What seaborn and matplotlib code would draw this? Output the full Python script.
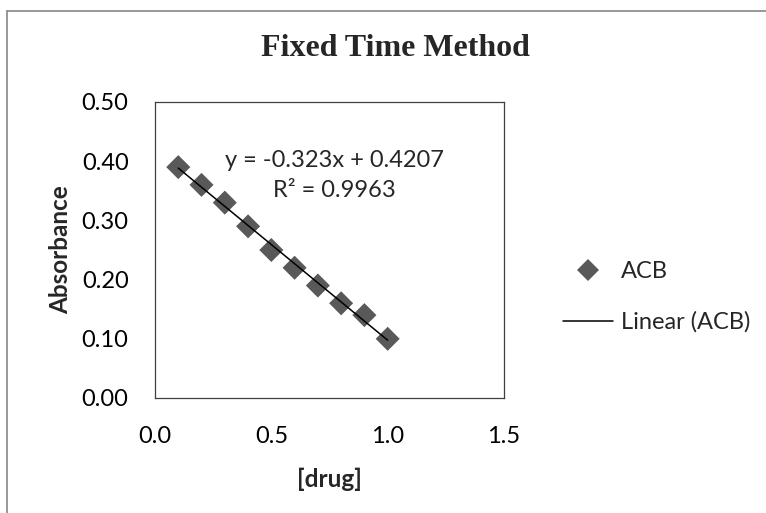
import matplotlib
matplotlib.use("Agg")
import matplotlib.pyplot as plt
import seaborn as sns
import pandas as pd
from matplotlib.lines import Line2D

# data
drug = [0.1, 0.2, 0.3, 0.4, 0.5, 0.6, 0.7, 0.8, 0.9, 1.0]
absorbance = [0.39, 0.36, 0.33, 0.29, 0.25, 0.22, 0.19, 0.16, 0.14, 0.10]
series_name = "ACB"
trend_name = "Linear (ACB)"
title = "Fixed Time Method"
x_label = "[drug]"
y_label = "Absorbance"
equation = "y = -0.323x + 0.4207"
r_squared = "R² = 0.9963"
x_ticks = [0.0, 0.5, 1.0, 1.5]
y_ticks = [0.0, 0.1, 0.2, 0.3, 0.4, 0.5]

df = pd.DataFrame({"drug": drug, "absorbance": absorbance})

sns.set_theme(style="white")
plt.rcParams["font.family"] = ["Lato", "DejaVu Sans"]

fig = plt.figure(figsize=(7.66, 5.13), dpi=100)
ax = fig.add_axes([155 / 766, 1 - 398 / 513, 349 / 766, 296 / 513])

marker_color = "#595959"
sns.scatterplot(data=df, x="drug", y="absorbance", ax=ax, marker="D", s=150,
                color=marker_color, edgecolor="none", linewidth=0, zorder=2)
sns.regplot(data=df, x="drug", y="absorbance", ax=ax, scatter=False, ci=None,
            truncate=True, line_kws={"color": "black", "lw": 1.1, "zorder": 3})

ax.set_xlim(0, 1.5)
ax.set_ylim(0, 0.5)
ax.set_xticks(x_ticks)
ax.set_yticks(y_ticks)
ax.set_xticklabels([f"{v:.1f}" for v in x_ticks])
ax.set_yticklabels([f"{v:.2f}" for v in y_ticks])
ax.tick_params(axis="both", direction="in", length=5, width=0.8, color="#404040",
               labelsize=17, labelcolor="black")
ax.tick_params(axis="x", pad=20)
ax.tick_params(axis="y", pad=19)
for sp in ax.spines.values():
    sp.set_color("#404040")
    sp.set_linewidth(0.9)

ax.set_xlabel(x_label, fontsize=17.5, fontweight="bold", labelpad=15)
ax.set_ylabel(y_label, fontsize=17.5, fontweight="bold", labelpad=7)

ax.text(0.771, 0.402, equation, fontsize=17, ha="center", va="center")
ax.text(0.771, 0.351, r_squared, fontsize=17, ha="center", va="center")

fig.text(395 / 766, 1 - 49 / 513, title, fontsize=23, fontweight="bold",
         family=["Liberation Serif", "DejaVu Serif"], ha="center", va="center")

handles = [
    Line2D([], [], marker="D", color=marker_color, markersize=11, linestyle="none",
           markeredgewidth=0),
    Line2D([], [], color="black", lw=1.1),
]
fig.legend(handles, [series_name, trend_name], loc="upper left",
           bbox_to_anchor=(563 / 766, 1 - 261 / 513), frameon=False, fontsize=17,
           handlelength=2.1, handletextpad=0.35, labelspacing=1.25, borderpad=0,
           borderaxespad=0)

# outer chart frame
fig.add_artist(Line2D([7 / 766, 7 / 766], [0, 1 - 11 / 513], transform=fig.transFigure,
                      color="#868686", lw=1.2))
fig.add_artist(Line2D([7 / 766, 1], [1 - 11 / 513, 1 - 11 / 513], transform=fig.transFigure,
                      color="#868686", lw=1.2))

fig.savefig("out.png", dpi=100)
